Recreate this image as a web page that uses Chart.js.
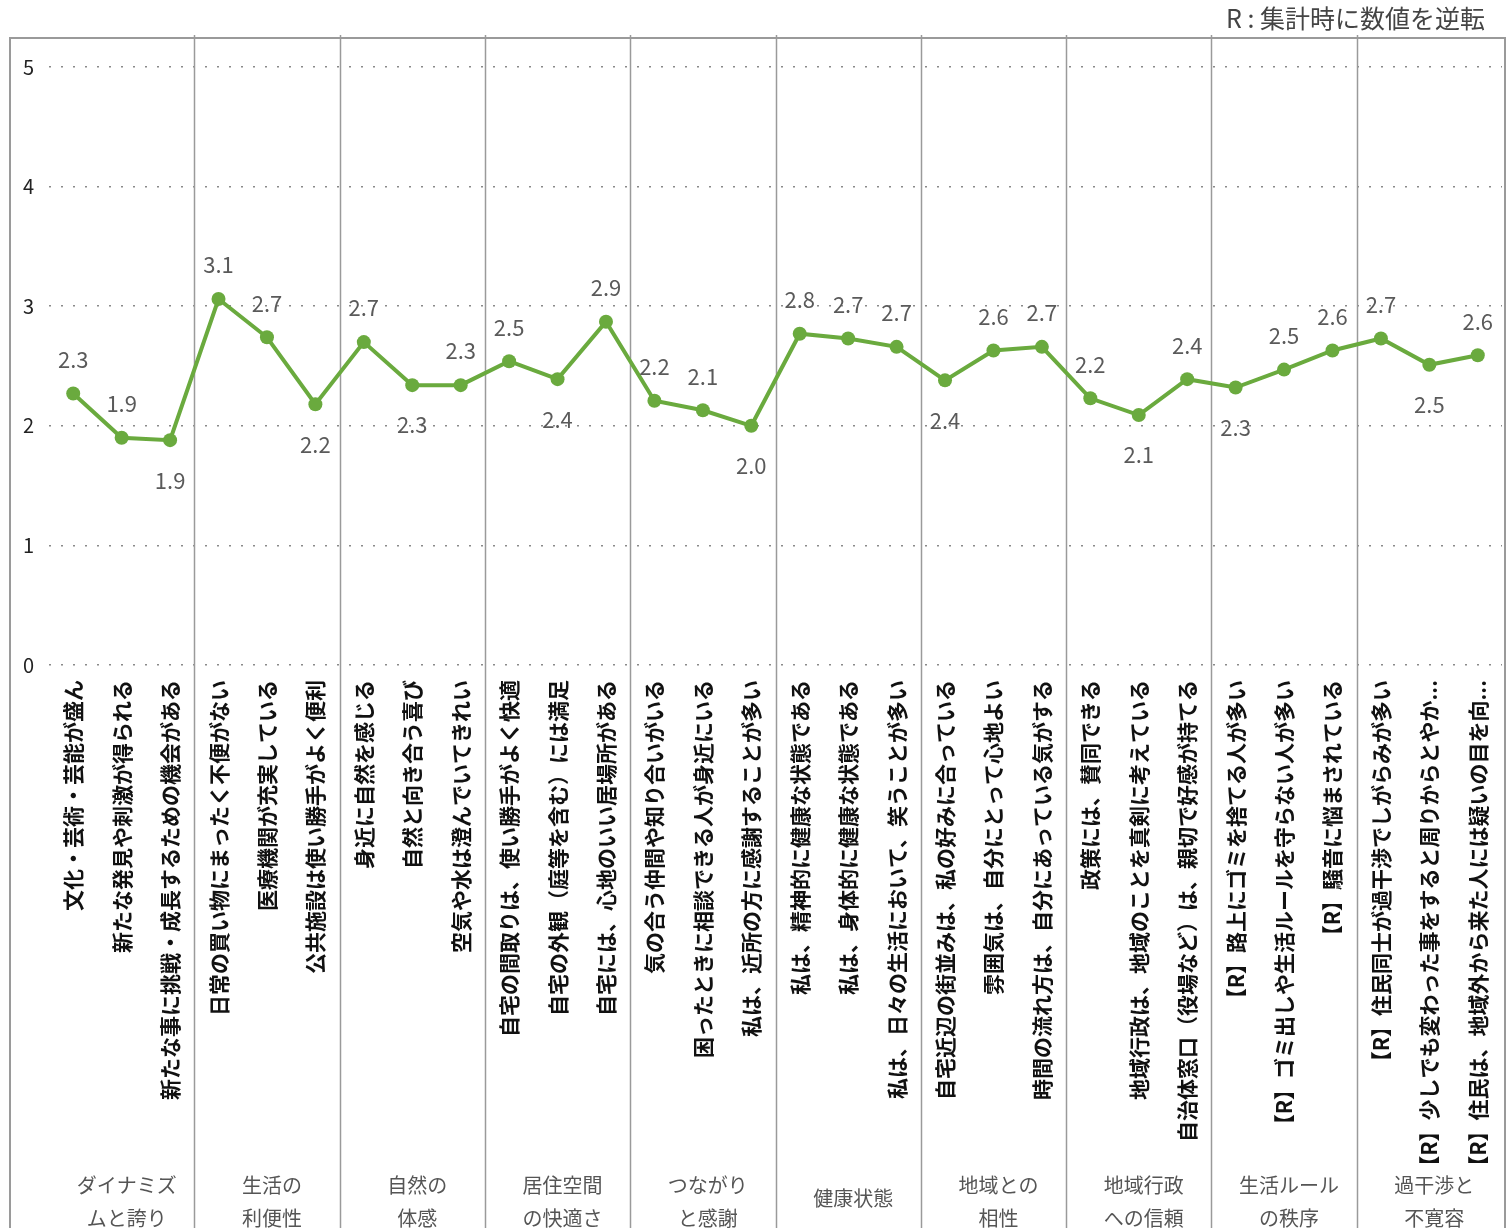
<!DOCTYPE html>
<html>
<head>
<meta charset="utf-8">
<script src="https://cdn.jsdelivr.net/npm/chart.js@4"></script>
<style>
  html, body { margin: 0; padding: 0; background: #ffffff; }
  #wrap { width: 1511px; height: 1228px; position: relative; overflow: hidden; }
</style>
</head>
<body>
<div id="wrap"><canvas id="c" width="1511" height="1228"></canvas></div>
<script>
const categories = [
  '文化・芸術・芸能が盛ん',
  '新たな発見や刺激が得られる',
  '新たな事に挑戦・成長するための機会がある',
  '日常の買い物にまったく不便がない',
  '医療機関が充実している',
  '公共施設は使い勝手がよく便利',
  '身近に自然を感じる',
  '自然と向き合う喜び',
  '空気や水は澄んでいてきれい',
  '自宅の間取りは、使い勝手がよく快適',
  '自宅の外観（庭等を含む）には満足',
  '自宅には、心地のいい居場所がある',
  '気の合う仲間や知り合いがいる',
  '困ったときに相談できる人が身近にいる',
  '私は、近所の方に感謝することが多い',
  '私は、精神的に健康な状態である',
  '私は、身体的に健康な状態である',
  '私は、日々の生活において、笑うことが多い',
  '自宅近辺の街並みは、私の好みに合っている',
  '雰囲気は、自分にとって心地よい',
  '時間の流れ方は、自分にあっている気がする',
  '政策には、賛同できる',
  '地域行政は、地域のことを真剣に考えている',
  '自治体窓口（役場など）は、親切で好感が持てる',
  '【R】路上にゴミを捨てる人が多い',
  '【R】ゴミ出しや生活ルールを守らない人が多い',
  '【R】騒音に悩まされている',
  '【R】住民同士が過干渉でしがらみが多い',
  '【R】少しでも変わった事をすると周りからとやか...',
  '【R】住民は、地域外から来た人には疑いの目を向...'
];

const values = [
  2.27, 1.90, 1.88,
  3.06, 2.74, 2.18,
  2.70, 2.34, 2.34,
  2.54, 2.39, 2.87,
  2.21, 2.13, 2.00,
  2.77, 2.73, 2.66,
  2.38, 2.63, 2.66,
  2.23, 2.09, 2.39,
  2.32, 2.47, 2.63,
  2.73, 2.51, 2.59
];

const groupNames = [
  ['ダイナミズ', 'ムと誇り'],
  ['生活の', '利便性'],
  ['自然の', '体感'],
  ['居住空間', 'の快適さ'],
  ['つながり', 'と感謝'],
  ['健康状態'],
  ['地域との', '相性'],
  ['地域行政', 'への信頼'],
  ['生活ルール', 'の秩序'],
  ['過干渉と', '不寛容']
];
const groupSizes = [3, 3, 3, 3, 3, 3, 3, 3, 3, 3];

const yTickValues = [0, 1, 2, 3, 4, 5];

const noteText = 'R : 集計時に数値を逆転';

// indices whose value label is placed under the point
const labelBelow = [2, 5, 7, 10, 14, 18, 22, 24, 28];

const FONT = "'Noto Sans CJK JP', 'Noto Sans', sans-serif";
const GREEN = '#6aaa3e';
const FRAME = '#9a9a9a';

const decorPlugin = {
  id: 'decor',
  beforeDatasetsDraw(chart) {
    const ctx = chart.ctx;
    const x = chart.scales.x;
    const H = chart.height;
    ctx.save();
    ctx.strokeStyle = FRAME;
    // frame
    ctx.lineWidth = 2;
    ctx.beginPath();
    ctx.moveTo(10, H + 5);
    ctx.lineTo(10, 38);
    ctx.lineTo(1505, 38);
    ctx.lineTo(1505, H + 5);
    ctx.stroke();
    // group separators
    ctx.lineWidth = 1.5;
    let idx = 0;
    for (let g = 0; g < groupSizes.length - 1; g++) {
      idx += groupSizes[g];
      const px = (x.getPixelForValue(idx - 1) + x.getPixelForValue(idx)) / 2;
      ctx.beginPath();
      ctx.moveTo(Math.round(px) + 0.5, 35);
      ctx.lineTo(Math.round(px) + 0.5, H + 5);
      ctx.stroke();
    }
    // group names
    ctx.fillStyle = '#555';
    ctx.font = '20px ' + FONT;
    ctx.textAlign = 'center';
    ctx.textBaseline = 'middle';
    let start = 0;
    groupNames.forEach((lines, g) => {
      const mid = start + (groupSizes[g] - 1) / 2;
      const cx = x.getPixelForValue(mid) + 5;
      if (lines.length === 1) {
        ctx.fillText(lines[0], cx, 1198);
      } else {
        ctx.fillText(lines[0], cx, 1185);
        ctx.fillText(lines[1], cx, 1218);
      }
      start += groupSizes[g];
    });
    // note
    ctx.fillStyle = '#444';
    ctx.font = '25px ' + FONT;
    ctx.textAlign = 'right';
    ctx.fillText(noteText, 1485, 18);
    ctx.restore();
  },
  afterDatasetsDraw(chart) {
    const ctx = chart.ctx;
    const meta = chart.getDatasetMeta(0);
    ctx.save();
    ctx.fillStyle = '#5a5a5a';
    ctx.font = '22px ' + FONT;
    ctx.textAlign = 'center';
    ctx.textBaseline = 'middle';
    meta.data.forEach((pt, i) => {
      const v = chart.data.datasets[0].data[i];
      const below = labelBelow.includes(i);
      const y = below ? pt.y + 40 : pt.y - 34;
      ctx.fillText(v.toFixed(1), pt.x, y);
    });
    ctx.restore();
  }
};

new Chart(document.getElementById('c'), {
  type: 'line',
  data: {
    labels: categories,
    datasets: [{
      data: values,
      borderColor: GREEN,
      backgroundColor: GREEN,
      borderWidth: 4,
      pointRadius: 7,
      pointBorderWidth: 0,
      pointBackgroundColor: GREEN,
      tension: 0,
      fill: false
    }]
  },
  options: {
    responsive: false,
    animation: false,
    layout: { padding: { top: 67, left: 10, right: 9, bottom: 0 } },
    plugins: { legend: { display: false }, tooltip: { enabled: false } },
    scales: {
      x: {
        offset: true,
        grid: { display: false, drawTicks: false },
        border: { display: false },
        ticks: {
          autoSkip: false,
          minRotation: 90,
          maxRotation: 90,
          padding: 15,
          color: '#111',
          font: { family: FONT, size: 21, weight: 'bold' }
        },
        afterFit(scale) {
          scale.height = 563;
          scale.paddingLeft = 0;
          scale.paddingRight = 0;
        }
      },
      y: {
        min: 0,
        max: 5,
        afterBuildTicks(scale) { scale.ticks = yTickValues.map(v => ({ value: v })); },
        grid: {
          color: '#8a8a8a',
          lineWidth: 1.5,
          drawTicks: false
        },
        border: { display: false, dash: [2, 10] },
        ticks: {
          padding: 15,
          color: '#222',
          font: { family: FONT, size: 20 }
        },
        afterFit(scale) { scale.width = 39; }
      }
    }
  },
  plugins: [decorPlugin]
});
</script>
</body>
</html>
